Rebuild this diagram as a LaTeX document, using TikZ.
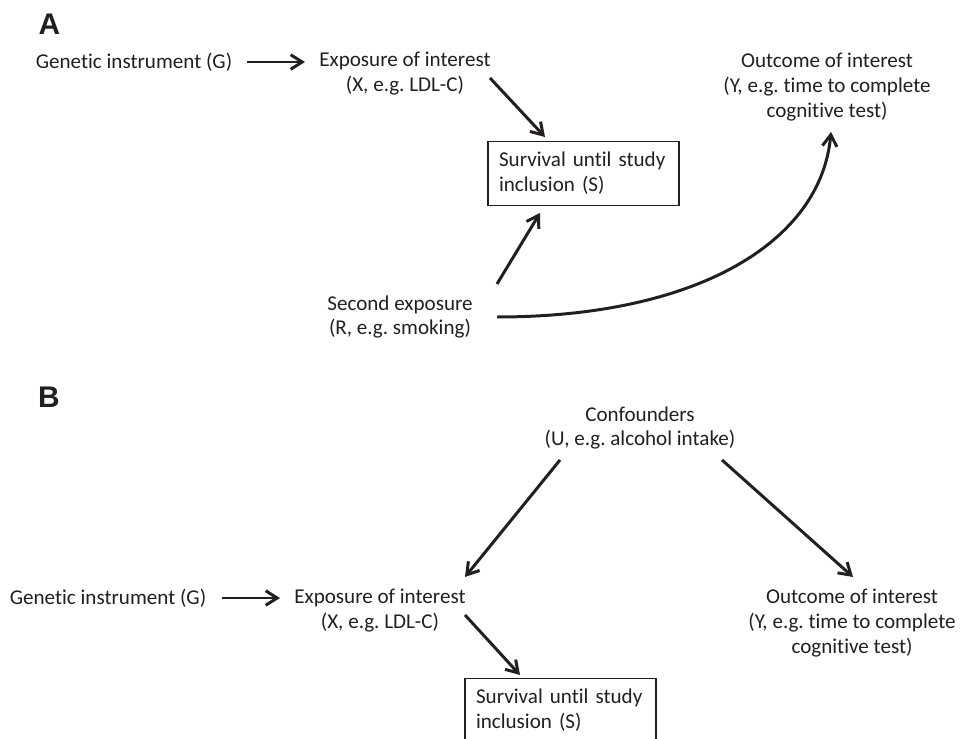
\documentclass[tikz,border=0pt]{standalone}
\usepackage{fontspec}
\setmainfont{Carlito}[Ligatures=NoCommon]
\newfontfamily\panelfont{Liberation Sans}
\usepackage{tikz}
\usetikzlibrary{arrows.meta,calc}
\definecolor{ink}{HTML}{231F20}
\frenchspacing

\begin{document}
\begin{tikzpicture}[x=0.02cm, y=-0.02cm, line width=1.7pt, color=ink,
  every node/.style={font=\fontsize{12}{14.2}\selectfont, text=ink, inner sep=0pt, align=center},
  cause/.style={-{Straight Barb[length=2.3mm,width=2.9mm]}, line width=1.7pt},
  panel/.style={font=\panelfont\fontsize{17}{17}\selectfont\bfseries},
  survbox/.style={draw, line width=0.8pt, minimum width=3.82cm, minimum height=1.26cm,
                  text width=3.38cm, align=left, inner sep=0.22cm}]

  % -- page: pixel units, y runs down ------------------------------------
  \clip (0,0) rectangle (970,739);

  % -- panel A -------------------------------------------------------------
  \node[panel] (labA) at (49.5,24.5) {A};
  \node (G_A) at (134,62)    {Genetic instrument (G)};
  \node (X_A) at (405,74)    {Exposure of interest\\(X, e.g. LDL-C)};
  \node (Y_A) at (827,87)    {Outcome of interest\\(Y, e.g. time to complete\\cognitive test)};
  \node[survbox] (S_A) at (583.5,173.5) {Survival until study\\inclusion (S)};
  \node (R_A) at (400,317)   {Second exposure\\(R, e.g. smoking)};

  \draw[cause] ($(G_A)+(113,0)$) -- ($(X_A)+(-100,-12)$);
  \draw[cause] ($(X_A)+(85,4)$) -- ($(S_A)+(-38.5,-36.5)$);
  \draw[cause] ($(R_A)+(97,-33)$) -- ($(S_A)+(-43.5,39.5)$);
  \draw[cause] ($(R_A)+(97,0)$) .. controls +(200,0) and +(-10,110) .. ($(Y_A)+(4,45)$);

  % -- panel B -------------------------------------------------------------
  \node[panel] (labB) at (49,397) {B};
  \node (U)   at (640,428)   {Confounders\\(U, e.g. alcohol intake)};
  \node (G_B) at (108,598)   {Genetic instrument (G)};
  \node (X_B) at (380,611)   {Exposure of interest\\(X, e.g. LDL-C)};
  \node (Y_B) at (852,623)   {Outcome of interest\\(Y, e.g. time to complete\\cognitive test)};
  \node[survbox] (S_B) at (560.5,710.5) {Survival until study\\inclusion (S)};

  \draw[cause] ($(G_B)+(114,0)$) -- ($(X_B)+(-100,-13)$);
  \draw[cause] ($(U)+(-80,32)$) -- ($(X_B)+(85,-34)$);
  \draw[cause] ($(U)+(82,32)$) -- ($(Y_B)+(1,-46)$);
  \draw[cause] ($(X_B)+(85,4)$) -- ($(S_B)+(-40.5,-35.5)$);

\end{tikzpicture}
\end{document}
